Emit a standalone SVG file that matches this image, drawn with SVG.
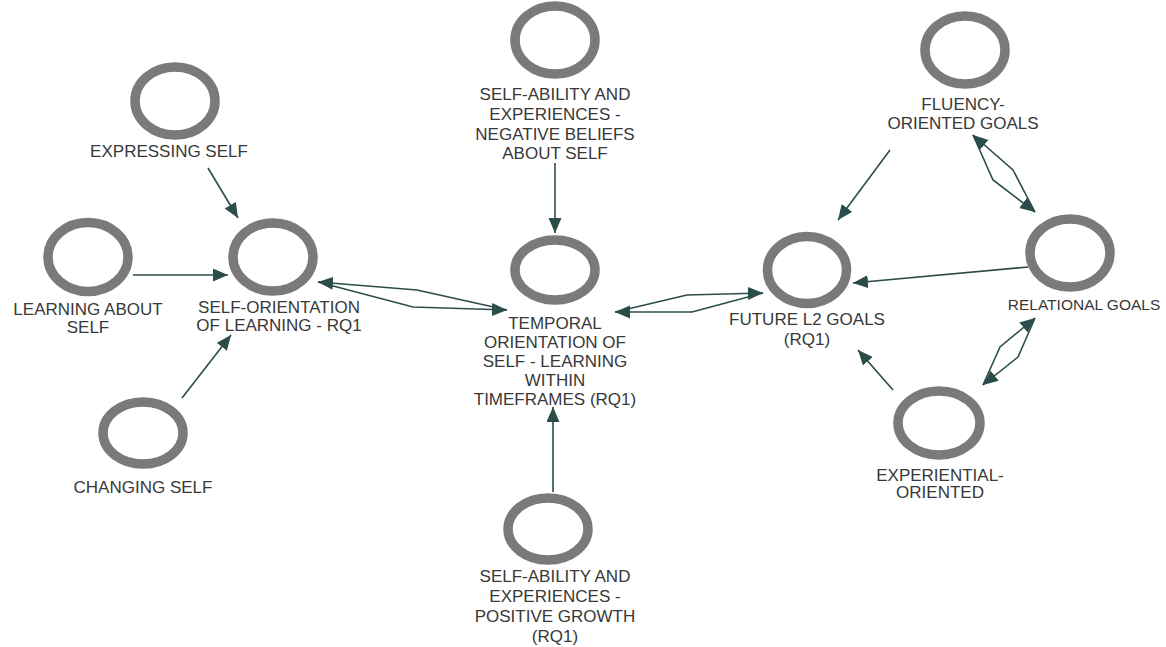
<svg xmlns="http://www.w3.org/2000/svg" width="1166" height="647" viewBox="0 0 1166 647">
  <defs>
    <marker id="arrow" markerUnits="userSpaceOnUse" markerWidth="16" markerHeight="14" refX="15" refY="6.5" orient="auto">
      <path d="M0,0 L15,6.5 L0,13 Z" fill="#2b4d4a"/>
    </marker>
    <style>
      .ring { fill: none; stroke: #7a7a7a; stroke-width: 9.5; }
      .label { font-family: "Liberation Sans", Arial, sans-serif; font-size: 17px; fill: #383838; text-anchor: middle; }
      .edge { fill: none; stroke: #2b4d4a; stroke-width: 1.6; marker-end: url(#arrow); }
    </style>
  </defs>
  <rect width="1166" height="647" fill="#ffffff"/>

  <!-- connectors -->
  <g id="connectors">
    <line class="edge" x1="208" y1="168" x2="238" y2="218"/>
    <line class="edge" x1="133" y1="275" x2="228" y2="275"/>
    <line class="edge" x1="182" y1="398" x2="231" y2="335"/>
    <polyline class="edge" points="507,310 417,290 318,282"/>
    <polyline class="edge" points="318,282 413,307 507,310"/>
    <line class="edge" x1="555" y1="163" x2="555" y2="233"/>
    <line class="edge" x1="553" y1="492" x2="553" y2="407"/>
    <polyline class="edge" points="615,312 687,295 763,293"/>
    <polyline class="edge" points="763,293 692,312 615,312"/>
    <line class="edge" x1="890" y1="150" x2="838" y2="220"/>
    <line class="edge" x1="1028" y1="267" x2="853" y2="283"/>
    <line class="edge" x1="893" y1="390" x2="858" y2="350"/>
    <polyline class="edge" points="1035,212 1013,170 973,135"/>
    <polyline class="edge" points="973,135 993,180 1035,212"/>
    <polyline class="edge" points="983,385 1000,347 1035,318"/>
    <polyline class="edge" points="1035,318 1018,357 983,385"/>
  </g>

  <!-- nodes -->
  <g id="expressing-self">
    <ellipse class="ring" cx="175" cy="101" rx="40" ry="34"/>
    <text class="label" x="169" y="157">EXPRESSING SELF</text>
  </g>
  <g id="learning-about-self">
    <ellipse class="ring" cx="88" cy="257" rx="40" ry="34.5"/>
    <text class="label" x="88" y="315">LEARNING ABOUT</text>
    <text class="label" x="88" y="333">SELF</text>
  </g>
  <g id="self-orientation">
    <ellipse class="ring" cx="273" cy="257" rx="40" ry="34"/>
    <text class="label" x="279" y="313">SELF-ORIENTATION</text>
    <text class="label" x="279" y="331">OF LEARNING - RQ1</text>
  </g>
  <g id="changing-self">
    <ellipse class="ring" cx="143" cy="433" rx="40" ry="31"/>
    <text class="label" x="143" y="493">CHANGING SELF</text>
  </g>
  <g id="negative-beliefs">
    <ellipse class="ring" cx="555" cy="40" rx="40" ry="34"/>
    <text class="label" x="555" y="100">SELF-ABILITY AND</text>
    <text class="label" x="555" y="120">EXPERIENCES -</text>
    <text class="label" x="555" y="140">NEGATIVE BELIEFS</text>
    <text class="label" x="555" y="159">ABOUT SELF</text>
  </g>
  <g id="temporal-orientation">
    <ellipse class="ring" cx="555" cy="270" rx="40" ry="30"/>
    <text class="label" x="555" y="329">TEMPORAL</text>
    <text class="label" x="555" y="348">ORIENTATION OF</text>
    <text class="label" x="555" y="367">SELF - LEARNING</text>
    <text class="label" x="555" y="386">WITHIN</text>
    <text class="label" x="555" y="405">TIMEFRAMES (RQ1)</text>
  </g>
  <g id="positive-growth">
    <ellipse class="ring" cx="548" cy="529" rx="40" ry="31"/>
    <text class="label" x="555" y="582">SELF-ABILITY AND</text>
    <text class="label" x="555" y="602">EXPERIENCES -</text>
    <text class="label" x="555" y="622">POSITIVE GROWTH</text>
    <text class="label" x="555" y="642">(RQ1)</text>
  </g>
  <g id="future-l2-goals">
    <ellipse class="ring" cx="807" cy="270" rx="39.5" ry="33.5"/>
    <text class="label" x="807" y="325">FUTURE L2 GOALS</text>
    <text class="label" x="807" y="345">(RQ1)</text>
  </g>
  <g id="fluency-goals">
    <ellipse class="ring" cx="965" cy="50" rx="40" ry="34"/>
    <text class="label" x="963" y="110">FLUENCY-</text>
    <text class="label" x="963" y="129">ORIENTED GOALS</text>
  </g>
  <g id="relational-goals">
    <ellipse class="ring" cx="1070" cy="253" rx="40" ry="34"/>
    <text class="label" x="1084" y="310" style="font-size:15.5px">RELATIONAL GOALS</text>
  </g>
  <g id="experiential-oriented">
    <ellipse class="ring" cx="939" cy="423" rx="41" ry="32"/>
    <text class="label" x="940" y="481">EXPERIENTIAL-</text>
    <text class="label" x="940" y="498">ORIENTED</text>
  </g>
</svg>
